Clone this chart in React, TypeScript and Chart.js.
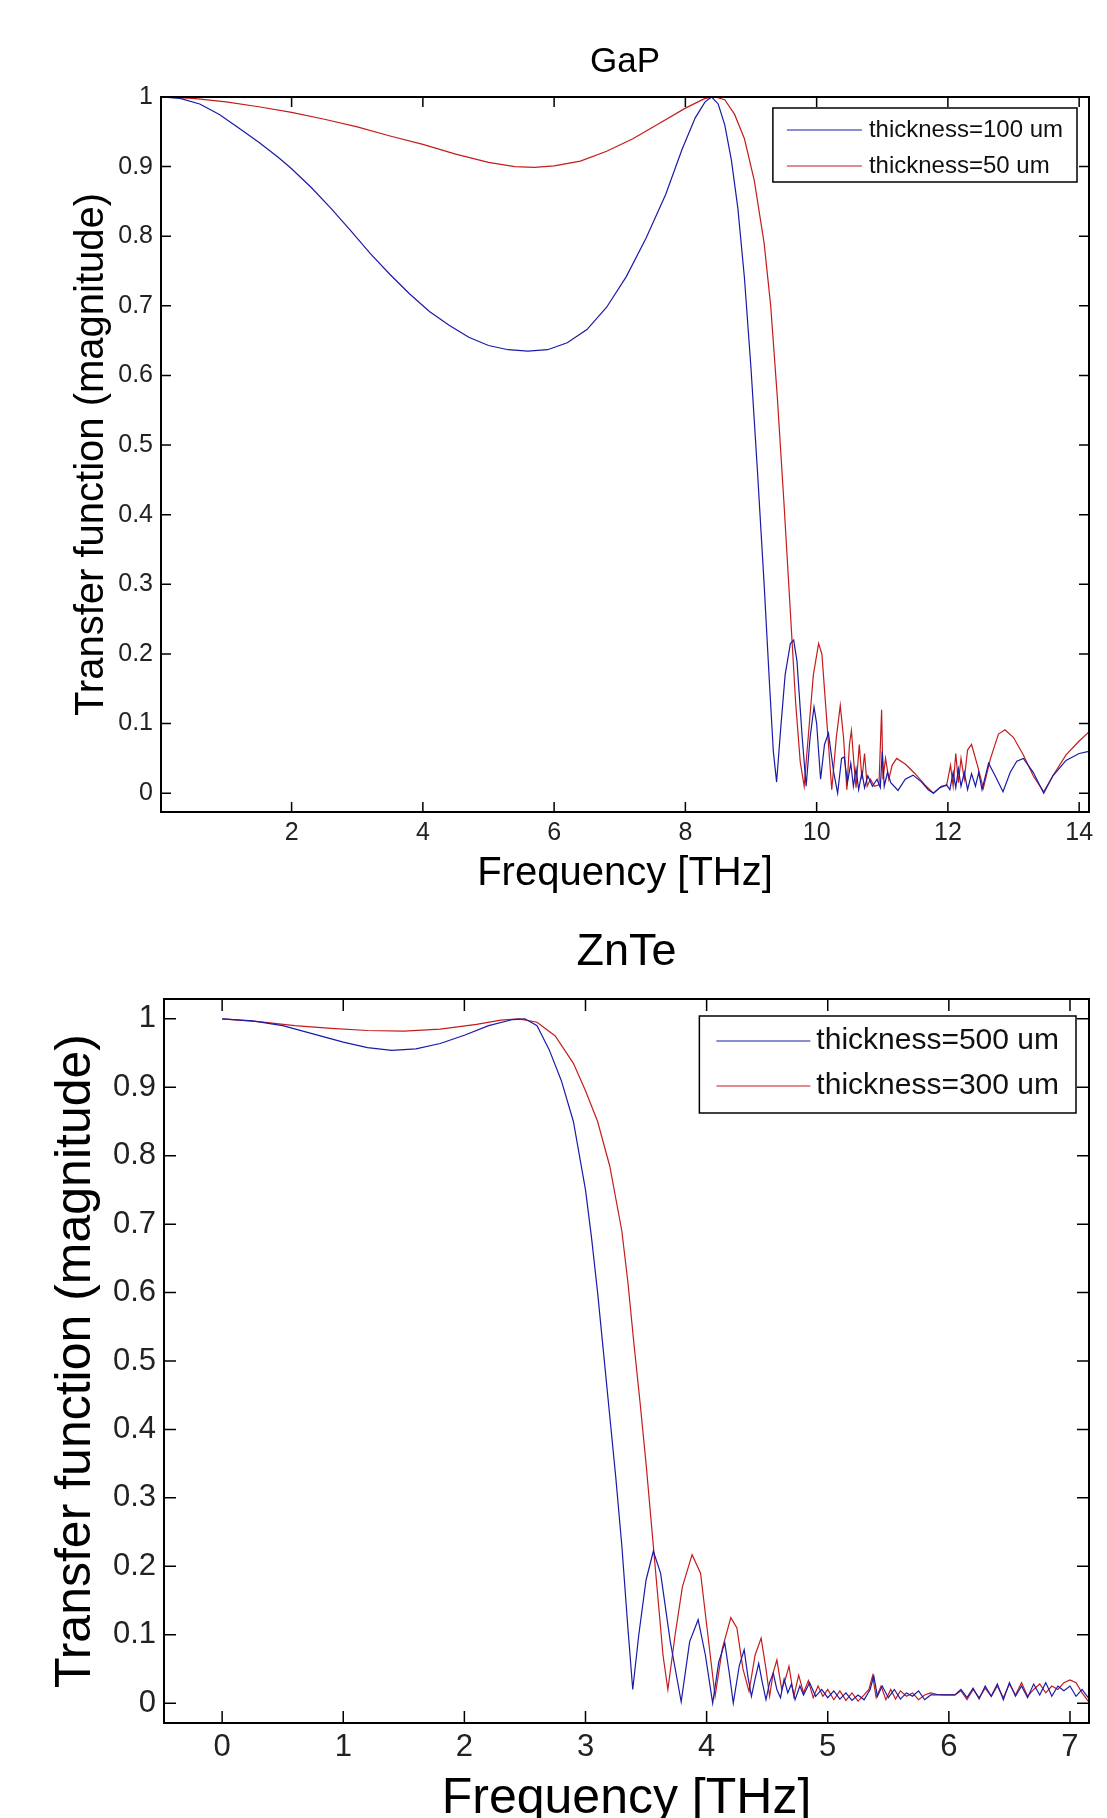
import React, { useEffect, useRef } from "react";
import { Chart, registerables } from "chart.js";

Chart.register(...registerables);

const FONT = "'Liberation Sans', Arial, Helvetica, sans-serif";
const NARROW = "'Liberation Sans Narrow', 'Arial Narrow', 'Liberation Sans', Arial, sans-serif";

// ---------- shared text ----------
const xAxisTitle = "Frequency [THz]";
const yAxisTitle = "Transfer function (magnitude)";
const yTickValues = [0, 0.1, 0.2, 0.3, 0.4, 0.5, 0.6, 0.7, 0.8, 0.9, 1];
const yTickLabels = ["0", "0.1", "0.2", "0.3", "0.4", "0.5", "0.6", "0.7", "0.8", "0.9", "1"];

// ---------- GaP ----------
const gapTitle = "GaP";
const gapSeriesLabels = ["thickness=100 um", "thickness=50 um"];
const gapXTicks = [2, 4, 6, 8, 10, 12, 14];
const gapXTickLabels = ["2", "4", "6", "8", "10", "12", "14"];

const gap100Freq = [
  0.01, 0.3, 0.6, 0.9, 1.2, 1.5, 1.8, 2.0, 2.3, 2.6, 2.9, 3.2, 3.5, 3.8, 4.1, 4.4, 4.7, 5.0, 5.3, 5.6,
  5.9, 6.2, 6.5, 6.8, 7.1, 7.4, 7.7, 7.95, 8.15, 8.3, 8.4, 8.5, 8.6, 8.7, 8.8, 8.9, 9.0, 9.1, 9.2, 9.28,
  9.34, 9.39, 9.45, 9.52, 9.6, 9.65, 9.7, 9.78, 9.84, 9.9, 9.96, 10.0, 10.06, 10.12, 10.18, 10.26, 10.32, 10.38, 10.42, 10.47,
  10.52, 10.56, 10.6, 10.64, 10.69, 10.73, 10.78, 10.85, 10.92, 10.97, 11.0, 11.03, 11.08, 11.13, 11.24, 11.35, 11.47, 11.6, 11.7, 11.78,
  11.88, 11.98, 12.03, 12.08, 12.12, 12.16, 12.2, 12.25, 12.3, 12.36, 12.42, 12.47, 12.52, 12.62, 12.72, 12.84, 12.95, 13.05, 13.15, 13.3,
  13.46, 13.6, 13.8, 14.0, 14.15,
];
const gap100Mag = [
  1.0, 0.998, 0.99, 0.975, 0.955, 0.935, 0.913, 0.897, 0.87, 0.84, 0.808, 0.775, 0.745, 0.717, 0.692, 0.672, 0.655, 0.643, 0.637, 0.635,
  0.637, 0.647, 0.666, 0.698, 0.742, 0.797, 0.86, 0.925, 0.97, 0.993, 1.0, 0.99, 0.96, 0.91, 0.84, 0.74, 0.61, 0.46, 0.3, 0.16,
  0.06, 0.016, 0.09, 0.17, 0.215, 0.22, 0.19, 0.08, 0.01, 0.08, 0.124, 0.1, 0.02, 0.07, 0.086, 0.03, 0.0, 0.05, 0.052, 0.015,
  0.043, 0.01, 0.035, 0.005, 0.03, 0.008, 0.025, 0.01, 0.02, 0.008, 0.06, 0.01, 0.03, 0.015, 0.004, 0.02, 0.026, 0.016, 0.005, 0.0,
  0.008, 0.012, 0.005, 0.03, 0.008, 0.035, 0.01, 0.03, 0.005, 0.028, 0.01, 0.03, 0.005, 0.043, 0.025, 0.002, 0.03, 0.046, 0.05, 0.03,
  0.0, 0.025, 0.047, 0.057, 0.06,
];

const gap50Freq = [
  0.01, 0.5, 1.0, 1.5, 2.0, 2.5, 3.0, 3.5, 4.0, 4.5, 5.0, 5.4, 5.7, 6.0, 6.4, 6.8, 7.2, 7.6, 8.0, 8.3,
  8.45, 8.6, 8.75, 8.9, 9.05, 9.2, 9.3, 9.4, 9.5, 9.6, 9.68, 9.75, 9.81, 9.88, 9.95, 10.03, 10.08, 10.15, 10.23, 10.3,
  10.36, 10.41, 10.46, 10.5, 10.53, 10.57, 10.6, 10.65, 10.69, 10.73, 10.77, 10.82, 10.88, 10.95, 10.99, 11.01, 11.05, 11.1, 11.15, 11.22,
  11.35, 11.5, 11.65, 11.78, 11.9, 11.98, 12.04, 12.08, 12.12, 12.16, 12.2, 12.25, 12.3, 12.36, 12.45, 12.54, 12.65, 12.77, 12.87, 13.0,
  13.15, 13.3, 13.46, 13.6, 13.8, 14.0, 14.15,
];
const gap50Mag = [
  1.0, 0.998, 0.993, 0.986, 0.978, 0.968, 0.957, 0.944, 0.932, 0.918, 0.906, 0.9, 0.899, 0.901, 0.908, 0.922, 0.94, 0.962, 0.984, 0.998,
  1.0, 0.996, 0.975, 0.94, 0.88, 0.79, 0.7, 0.57, 0.42, 0.26, 0.13, 0.045, 0.01, 0.09, 0.17, 0.215, 0.2, 0.11, 0.005, 0.08,
  0.126, 0.08, 0.005, 0.07, 0.09, 0.04, 0.008, 0.07, 0.02, 0.057, 0.01, 0.02, 0.01, 0.012, 0.12, 0.02, 0.05, 0.02, 0.04, 0.05,
  0.042, 0.028, 0.012, 0.0, 0.01, 0.011, 0.04, 0.01, 0.057, 0.015, 0.05, 0.02, 0.062, 0.07, 0.04, 0.007, 0.05, 0.085, 0.091, 0.08,
  0.055, 0.025, 0.002, 0.025, 0.055, 0.075, 0.088,
];

// ---------- ZnTe ----------
const znteTitle = "ZnTe";
const znteSeriesLabels = ["thickness=500 um", "thickness=300 um"];
const znteXTicks = [0, 1, 2, 3, 4, 5, 6, 7];
const znteXTickLabels = ["0", "1", "2", "3", "4", "5", "6", "7"];

const znte500Freq = [
  0, 0.25, 0.5, 0.75, 1.0, 1.2, 1.4, 1.6, 1.8, 2.0, 2.2, 2.4, 2.5, 2.6, 2.7, 2.8, 2.9, 3.0, 3.05, 3.1,
  3.15, 3.2, 3.25, 3.3, 3.35, 3.39, 3.44, 3.5, 3.56, 3.62, 3.7, 3.79, 3.86, 3.93, 3.99, 4.05, 4.1, 4.15, 4.19, 4.22,
  4.27, 4.31, 4.34, 4.37, 4.4, 4.43, 4.46, 4.49, 4.52, 4.55, 4.58, 4.61, 4.64, 4.67, 4.7, 4.73, 4.77, 4.8, 4.85, 4.9,
  4.95, 5.0, 5.05, 5.1, 5.15, 5.2, 5.25, 5.3, 5.35, 5.38, 5.41, 5.45, 5.5, 5.55, 5.6, 5.65, 5.7, 5.75, 5.8, 5.85,
  5.9, 6.0, 6.05, 6.1, 6.15, 6.2, 6.25, 6.3, 6.35, 6.4, 6.45, 6.5, 6.55, 6.6, 6.65, 6.7, 6.75, 6.8, 6.85, 6.9,
  6.95, 7.0, 7.05, 7.1, 7.15,
];
const znte500Mag = [
  1.0, 0.997, 0.99, 0.978, 0.966, 0.958, 0.954, 0.956, 0.964, 0.976, 0.99, 0.999, 1.0, 0.99, 0.955, 0.91, 0.85, 0.75, 0.68, 0.6,
  0.51, 0.42, 0.33, 0.23, 0.11, 0.02, 0.1, 0.18, 0.222, 0.19, 0.09, 0.002, 0.09, 0.122, 0.07, 0.0, 0.06, 0.088, 0.04, 0.0,
  0.055, 0.078, 0.04, 0.01, 0.035, 0.058, 0.03, 0.005, 0.03, 0.044, 0.02, 0.008, 0.035, 0.015, 0.028, 0.005, 0.025, 0.012, 0.03, 0.01,
  0.02, 0.008, 0.018, 0.006, 0.015, 0.004, 0.012, 0.005, 0.02, 0.04, 0.01, 0.025, 0.008, 0.02, 0.006, 0.015, 0.01, 0.018, 0.005, 0.012,
  0.012, 0.012, 0.012, 0.02, 0.008, 0.022, 0.006, 0.025, 0.01, 0.028, 0.005, 0.03, 0.01, 0.025, 0.008, 0.028, 0.012, 0.03, 0.01, 0.025,
  0.018, 0.025, 0.01, 0.02, 0.008,
];

const znte300Freq = [
  0, 0.3, 0.6, 0.9, 1.2, 1.5, 1.8, 2.1, 2.3, 2.45, 2.6, 2.75, 2.9, 3.0, 3.1, 3.2, 3.3, 3.35, 3.4, 3.45,
  3.5, 3.55, 3.6, 3.64, 3.68, 3.74, 3.8, 3.88, 3.95, 4.01, 4.07, 4.13, 4.2, 4.25, 4.3, 4.35, 4.4, 4.45, 4.49, 4.52,
  4.55, 4.58, 4.62, 4.65, 4.68, 4.72, 4.76, 4.8, 4.84, 4.88, 4.92, 4.96, 5.0, 5.05, 5.1, 5.15, 5.2, 5.25, 5.3, 5.34,
  5.37, 5.4, 5.44, 5.48, 5.52, 5.56, 5.6, 5.65, 5.7, 5.75, 5.8, 5.85, 5.9, 5.95, 6.05, 6.1, 6.15, 6.2, 6.25, 6.3,
  6.35, 6.4, 6.45, 6.5, 6.55, 6.6, 6.65, 6.7, 6.75, 6.8, 6.85, 6.9, 6.95, 7.0, 7.05, 7.1, 7.15,
];
const znte300Mag = [
  1.0, 0.996, 0.99, 0.986, 0.983, 0.982, 0.985, 0.992, 0.998, 1.0, 0.995, 0.975, 0.935, 0.895, 0.85, 0.785, 0.69, 0.615, 0.525, 0.44,
  0.35, 0.25, 0.15, 0.07, 0.02, 0.1, 0.17, 0.217, 0.19, 0.1, 0.01, 0.08, 0.125, 0.11, 0.05, 0.017, 0.07, 0.095, 0.05, 0.01,
  0.045, 0.063, 0.02, 0.035, 0.054, 0.01, 0.041, 0.015, 0.033, 0.008, 0.025, 0.01, 0.02, 0.005, 0.018, 0.004, 0.015, 0.003, 0.012, 0.02,
  0.04, 0.008, 0.025, 0.005, 0.02, 0.006, 0.018, 0.01, 0.015, 0.005, 0.012, 0.015, 0.013, 0.012, 0.012, 0.018, 0.005, 0.02, 0.008, 0.022,
  0.01, 0.025, 0.008, 0.028, 0.012, 0.03, 0.01, 0.02, 0.028, 0.015, 0.025, 0.02, 0.03, 0.034, 0.03, 0.015, 0.003,
];

const BLUE = "#1a1aa8";
const RED = "#c41c1c";

// ---------- plugins ----------
const matlabBox = {
  id: "matlabBox",
  afterDatasetsDraw(chart: any, _a: any, o: any) {
    const { ctx, chartArea: a, scales } = chart;
    const len = o.tickLen;
    ctx.save();
    ctx.strokeStyle = "#000";
    ctx.lineWidth = 1.5;
    ctx.beginPath();
    for (const t of scales.x.ticks) {
      const px = scales.x.getPixelForValue(t.value);
      ctx.moveTo(px, a.bottom);
      ctx.lineTo(px, a.bottom - len);
      ctx.moveTo(px, a.top);
      ctx.lineTo(px, a.top + len);
    }
    for (const t of scales.y.ticks) {
      const py = scales.y.getPixelForValue(t.value);
      ctx.moveTo(a.left, py);
      ctx.lineTo(a.left + len, py);
      ctx.moveTo(a.right, py);
      ctx.lineTo(a.right - len, py);
    }
    ctx.stroke();
    ctx.lineWidth = 2;
    ctx.strokeRect(a.left, a.top, a.right - a.left, a.bottom - a.top);
    ctx.restore();
  },
};

const boxLegend = {
  id: "boxLegend",
  afterDatasetsDraw(chart: any, _a: any, o: any) {
    const { ctx, chartArea: a } = chart;
    const ds = chart.data.datasets;
    ctx.save();
    ctx.font = `${o.fontSize}px ${FONT}`;
    const textW = Math.max(...ds.map((d: any) => ctx.measureText(d.label).width));
    const w = o.textOffset + textW + o.padRight;
    const right = a.right - o.marginRight;
    const left = right - w;
    const top = a.top + o.marginTop;
    ctx.fillStyle = "#fff";
    ctx.fillRect(left, top, w, o.height);
    ctx.strokeStyle = "#000";
    ctx.lineWidth = 1.5;
    ctx.strokeRect(left, top, w, o.height);
    ds.forEach((d: any, i: number) => {
      const y = top + o.firstRow + i * o.rowGap;
      ctx.strokeStyle = d.borderColor;
      ctx.lineWidth = d.borderWidth;
      ctx.beginPath();
      ctx.moveTo(left + o.lineStart, y);
      ctx.lineTo(left + o.lineStart + o.lineLen, y);
      ctx.stroke();
      ctx.fillStyle = "#111";
      ctx.textBaseline = "middle";
      ctx.textAlign = "left";
      ctx.fillText(d.label, left + o.textOffset, y);
    });
    ctx.restore();
  },
};

function toPoints(xs: number[], ys: number[]) {
  return xs.map((x, i) => ({ x, y: ys[i] }));
}

type PlotCfg = {
  title: string;
  titleSize: number;
  titlePad: { top: number; bottom: number };
  series: { label: string; xs: number[]; ys: number[]; color: string }[];
  xMin: number;
  xMax: number;
  yMin: number;
  yMax: number;
  xTicks: number[];
  xTickLabels: string[];
  tickSize: number;
  xTickPad: number;
  yAxisWidth: number;
  xAxisHeight: number;
  yTitleSize: number;
  yTitlePad: number;
  xTitleSize: number;
  xTitlePad: number;
  tickLen: number;
  legend: any;
  height: number;
};

function Plot({ cfg, top }: { cfg: PlotCfg; top: number }) {
  const ref = useRef<HTMLCanvasElement | null>(null);
  useEffect(() => {
    if (!ref.current) return;
    const chart = new Chart(ref.current, {
      type: "line",
      data: {
        datasets: cfg.series.map((s) => ({
          label: s.label,
          data: toPoints(s.xs, s.ys),
          borderColor: s.color,
          backgroundColor: s.color,
          borderWidth: 1.2,
          pointRadius: 0,
          tension: 0,
          fill: false,
        })),
      },
      options: {
        animation: false,
        responsive: false,
        devicePixelRatio: 1,
        layout: { padding: { left: 0, right: 18, top: 0, bottom: 0 } },
        plugins: {
          legend: { display: false },
          tooltip: { enabled: false },
          title: {
            display: true,
            text: cfg.title,
            fullSize: false,
            color: "#000",
            font: { family: FONT, size: cfg.titleSize, weight: "normal" },
            padding: cfg.titlePad,
          },
          matlabBox: { tickLen: cfg.tickLen },
          boxLegend: cfg.legend,
        } as any,
        scales: {
          x: {
            type: "linear",
            min: cfg.xMin,
            max: cfg.xMax,
            afterBuildTicks: (s: any) => {
              s.ticks = cfg.xTicks.map((v) => ({ value: v }));
            },
            afterFit: (s: any) => {
              s.height = cfg.xAxisHeight;
            },
            grid: { display: false, drawTicks: false },
            border: { display: false },
            ticks: {
              autoSkip: false,
              maxRotation: 0,
              color: "#222",
              padding: cfg.xTickPad,
              font: { family: NARROW, size: cfg.tickSize },
              callback: (_v: any, i: number) => cfg.xTickLabels[i],
            },
            title: {
              display: true,
              text: xAxisTitle,
              color: "#000",
              font: { family: FONT, size: cfg.xTitleSize },
              padding: { top: 0, bottom: cfg.xTitlePad },
            },
          },
          y: {
            type: "linear",
            min: cfg.yMin,
            max: cfg.yMax,
            afterBuildTicks: (s: any) => {
              s.ticks = yTickValues.map((v) => ({ value: v }));
            },
            afterFit: (s: any) => {
              s.width = cfg.yAxisWidth;
            },
            grid: { display: false, drawTicks: false },
            border: { display: false },
            ticks: {
              autoSkip: false,
              color: "#222",
              padding: 8,
              font: { family: NARROW, size: cfg.tickSize },
              callback: (_v: any, i: number) => yTickLabels[i],
            },
            title: {
              display: true,
              text: yAxisTitle,
              color: "#000",
              font: { family: FONT, size: cfg.yTitleSize },
              padding: { top: cfg.yTitlePad, bottom: 0 },
            },
          },
        },
      } as any,
      plugins: [matlabBox, boxLegend],
    });
    return () => chart.destroy();
  }, [cfg]);
  return (
    <canvas
      ref={ref}
      width={1107}
      height={cfg.height}
      style={{ position: "absolute", left: 0, top, width: 1107, height: cfg.height }}
    />
  );
}

const gapCfg: PlotCfg = {
  title: gapTitle,
  titleSize: 35,
  titlePad: { top: 41, bottom: 14 },
  series: [
    { label: gapSeriesLabels[0], xs: gap100Freq, ys: gap100Mag, color: BLUE },
    { label: gapSeriesLabels[1], xs: gap50Freq, ys: gap50Mag, color: RED },
  ],
  xMin: 0.01,
  xMax: 14.15,
  yMin: -0.027,
  yMax: 1,
  xTicks: gapXTicks,
  xTickLabels: gapXTickLabels,
  tickSize: 25,
  xTickPad: 6,
  yAxisWidth: 161,
  xAxisHeight: 88,
  yTitleSize: 40,
  yTitlePad: 68,
  xTitleSize: 40,
  xTitlePad: 2,
  tickLen: 10,
  legend: { fontSize: 24, marginRight: 12, marginTop: 11, lineStart: 14, lineLen: 75, textOffset: 96, padRight: 14, height: 74, firstRow: 22, rowGap: 36 },
  height: 900,
};

const znteCfg: PlotCfg = {
  title: znteTitle,
  titleSize: 45,
  titlePad: { top: 26, bottom: 19 },
  series: [
    { label: znteSeriesLabels[0], xs: znte500Freq, ys: znte500Mag, color: BLUE },
    { label: znteSeriesLabels[1], xs: znte300Freq, ys: znte300Mag, color: RED },
  ],
  xMin: -0.48,
  xMax: 7.157,
  yMin: -0.029,
  yMax: 1.029,
  xTicks: znteXTicks,
  xTickLabels: znteXTickLabels,
  tickSize: 31,
  xTickPad: 6,
  yAxisWidth: 164,
  xAxisHeight: 107,
  yTitleSize: 50,
  yTitlePad: 46,
  xTitleSize: 50,
  xTitlePad: 1,
  tickLen: 12,
  legend: { fontSize: 30, marginRight: 13, marginTop: 17, lineStart: 17, lineLen: 94, textOffset: 117, padRight: 17, height: 97, firstRow: 25, rowGap: 45 },
  height: 930,
};

export default function App() {
  return (
    <div
      style={{
        position: "absolute",
        left: 0,
        top: 0,
        width: 1107,
        height: 1818,
        overflow: "hidden",
        background: "#fff",
      }}
    >
      <Plot cfg={gapCfg} top={0} />
      <Plot cfg={znteCfg} top={900} />
    </div>
  );
}
